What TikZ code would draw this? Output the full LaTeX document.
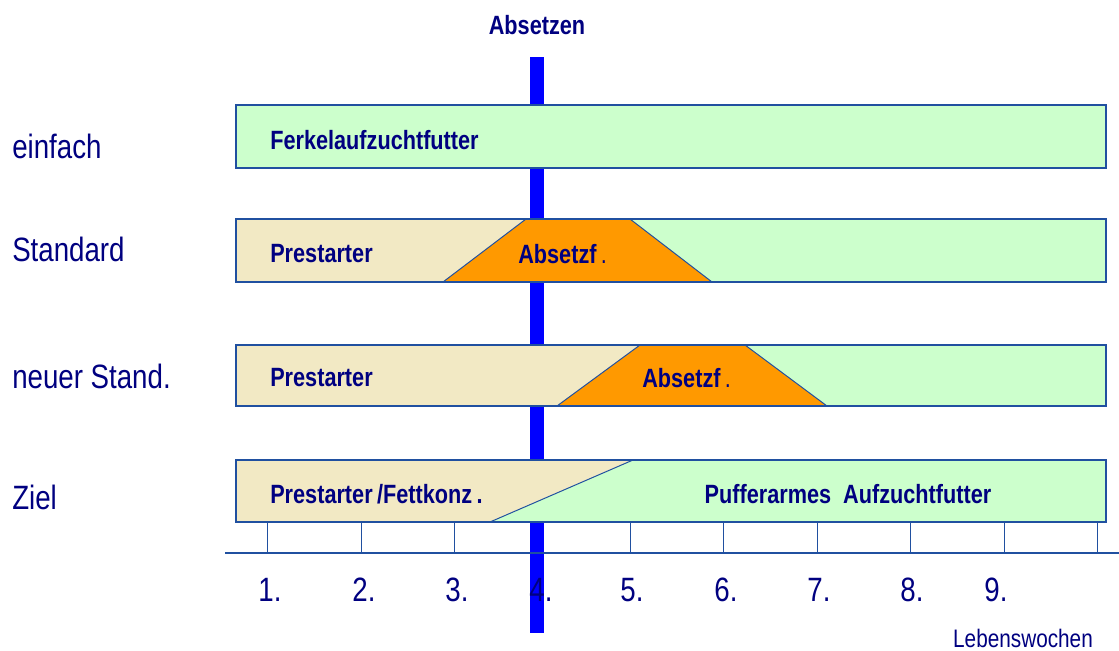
\documentclass[tikz,border=0pt]{standalone}
\usepackage{fontspec}
\setmainfont{Liberation Sans}[FakeStretch=0.82]
\definecolor{navy}{RGB}{0,0,128}
\definecolor{rand}{RGB}{32,80,160}
\definecolor{gruen}{RGB}{204,255,204}
\definecolor{beige}{RGB}{242,233,196}
\definecolor{orange}{RGB}{255,153,0}
\begin{document}
\begin{tikzpicture}[x=0.025cm,y=-0.025cm,
  zeile/.style={text=navy,font=\fontsize{24}{26}\selectfont,anchor=west,inner sep=0pt},
  futter/.style={text=navy,font=\fontsize{18.8}{20}\selectfont\bfseries,anchor=west,inner sep=0pt},
  woche/.style={text=navy,font=\fontsize{24}{26}\selectfont,inner sep=0pt},
  rahmen/.style={draw=rand,line width=0.9pt}]
\useasboundingbox (0,0) rectangle (1119,651);

\fill[blue] (530,57) rectangle (544,633);
\node[futter,anchor=center] (absetzen) at (537,25) {Absetzen};

% einfach
\fill[gruen] (236,105) rectangle (1106,168);
\draw[rahmen] (236,105) rectangle (1106,168);
\node[zeile] (einfach) at (12,146) {einfach};
\node[futter] (ferkel) at (270,140) {Ferkelaufzuchtfutter};

% Standard
\fill[beige] (236,219) rectangle (1106,282);
\fill[gruen] (630,219) -- (1106,219) -- (1106,282) -- (712,282) -- cycle;
\filldraw[fill=orange,draw=rand,line width=0.7pt] (443,282) -- (526,219) -- (630,219) -- (712,282) -- cycle;
\draw[rahmen] (236,219) rectangle (1106,282);
\node[zeile] (standard) at (12,249) {Standard};
\node[futter] (pre1) at (270,254) {Prestarter};
\node[futter] (abs1) at (518,254) {Absetzf{\mdseries\,.}};

% neuer Standard
\fill[beige] (236,345) rectangle (1106,406);
\fill[gruen] (745,345) -- (1106,345) -- (1106,406) -- (827,406) -- cycle;
\filldraw[fill=orange,draw=rand,line width=0.7pt] (557,406) -- (640,345) -- (745,345) -- (827,406) -- cycle;
\draw[rahmen] (236,345) rectangle (1106,406);
\node[zeile] (neu) at (12,376) {neuer Stand.};
\node[futter] (pre2) at (270,378) {Prestarter};
\node[futter] (abs2) at (642,378) {Absetzf{\mdseries\,.}};

% Ziel
\fill[beige] (236,460) rectangle (1106,522);
\fill[gruen] (490,522) -- (633,460) -- (1106,460) -- (1106,522) -- cycle;
\draw[draw=rand,line width=0.7pt] (490,522) -- (633,460);
\draw[rahmen] (236,460) rectangle (1106,522);
\node[zeile] (ziel) at (12,497) {Ziel};
\node[futter] (pre3) at (270,494) {Prestarter\,/Fettkonz\,.};
\node[futter,anchor=center] (puffer) at (848,494) {Pufferarmes\ \ Aufzuchtfutter};

% Achse
\draw[rand,line width=0.6pt] (267,522) -- (267,553);
\draw[rand,line width=0.6pt] (361,522) -- (361,553);
\draw[rand,line width=0.6pt] (454,522) -- (454,553);
\draw[rand,line width=0.6pt] (630,522) -- (630,553);
\draw[rand,line width=0.6pt] (723,522) -- (723,553);
\draw[rand,line width=0.6pt] (817,522) -- (817,553);
\draw[rand,line width=0.6pt] (910,522) -- (910,553);
\draw[rand,line width=0.6pt] (1004,522) -- (1004,553);
\draw[rand,line width=0.6pt] (1097,522) -- (1097,553);
\draw[rand,line width=0.9pt] (225,553) -- (1119,553);
\fill[blue] (530,553.5) rectangle (544,560);

\node[woche] (w1) at (270,590) {1.};
\node[woche] (w2) at (364,590) {2.};
\node[woche] (w3) at (457,590) {3.};
\node[woche] (w4) at (541,590) {4.};
\node[woche] (w5) at (632,590) {5.};
\node[woche] (w6) at (726,590) {6.};
\node[woche] (w7) at (819,590) {7.};
\node[woche] (w8) at (912,590) {8.};
\node[woche] (w9) at (996,590) {9.};
\node[text=navy,font=\fontsize{18}{20}\selectfont,inner sep=0pt] (lw) at (1023,638) {Lebenswochen};
\end{tikzpicture}
\end{document}
